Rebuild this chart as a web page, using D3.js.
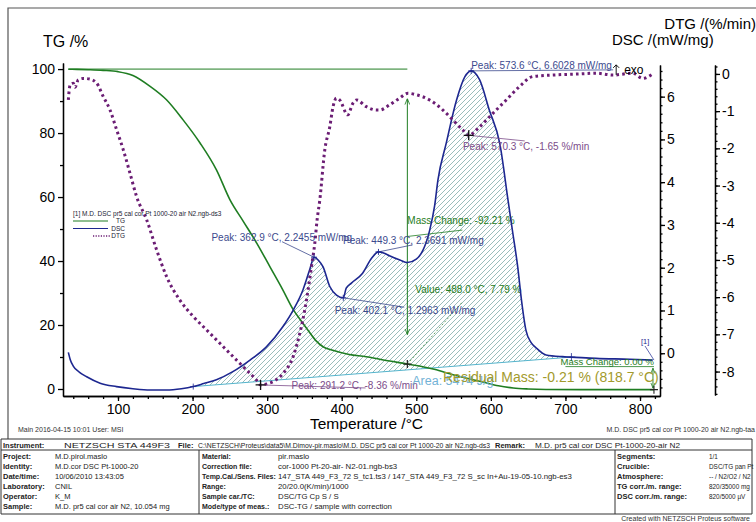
<!DOCTYPE html>
<html><head><meta charset="utf-8">
<script src="https://cdn.jsdelivr.net/npm/d3@7"></script>
<style>
body{margin:0;background:#fff}
svg{display:block}
text{font-family:Arial,"Liberation Sans",sans-serif}
</style>
</head><body>
<svg id="chart" width="756" height="522"></svg>
<script>
// ---- Measured curves (temperature in °C) ----
const tgTemp = [33.4,45,60,80,100,120,143,165,187,210,232,250,268,286,304,321,335,345,355,365,375,388,410,433,451,488,510,527,540,565,589,610,630,650,674,720,770,818.7];
const tgMass = [99.95,99.9,99.8,99.6,99.2,98.0,94.6,90.4,84.2,76.9,68.5,59.2,52.4,45.6,38.1,31.0,24.8,21.5,18.3,15.2,13.2,12.1,10.8,10.1,9.3,7.79,6.9,6.0,5.1,3.5,2.2,1.0,0.3,0.0,-0.15,-0.2,-0.2,-0.21];

const dscTemp = [33.4,36,40,48,58,76,98,120,143,165,185,200.9,215,232,254,277,299,321,335,348,357,362.9,369,375,384,393,402.1,406,413,428,440,449.3,457,464,478,488,500,509,518,524.6,529,540,554,565,573.6,585,598,612,623,629.5,636,641,647,654,661,674,696,708,741,786,817];
const dscVal  = [0.02,-0.15,-0.30,-0.44,-0.55,-0.70,-0.78,-0.83,-0.86,-0.86,-0.83,-0.78,-0.71,-0.62,-0.43,-0.16,0.15,0.62,1.01,1.48,1.95,2.2455,2.17,2.02,1.56,1.36,1.2963,1.52,1.64,1.87,2.22,2.3691,2.34,2.28,2.18,2.12,2.20,2.41,2.88,3.45,4.05,4.90,5.92,6.46,6.6028,6.39,5.68,4.90,3.58,2.80,2.02,1.25,0.54,0.25,0.12,-0.04,-0.08,-0.09,-0.12,-0.14,-0.16];

const dtgTemp = [33.4,35.7,40.1,42.4,46.8,53.5,62.5,71.5,80.3,89.3,98.3,107.1,116.1,125,138.4,151.8,165.2,183,200.9,218.8,236.6,254.4,272.4,285.8,291.2,300,308,321.4,334.8,343.8,350.5,354.9,359.4,363.9,367,370.6,377.3,384,388.4,392.9,397.3,408,415,420,433,446.5,451,464.3,477.7,488.8,500,517.9,535.7,549.1,562.5,570.3,584.9,602.7,620.6,638.4,656.3,683,718.8,741.2,763.5,790.2,803.6,817];
const dtgVal  = [-0.70,-0.30,-0.25,-0.36,-0.16,-0.12,-0.14,-0.25,-0.61,-0.97,-1.51,-2.04,-2.67,-3.30,-3.92,-4.73,-5.45,-6.08,-6.52,-6.88,-7.24,-7.60,-7.96,-8.23,-8.36,-8.33,-8.27,-8.05,-7.60,-6.97,-6.34,-5.81,-5.18,-4.55,-3.92,-3.39,-2.04,-1.42,-0.88,-0.65,-0.70,-1.10,-0.79,-0.70,-0.88,-0.97,-0.97,-0.83,-0.65,-0.52,-0.56,-0.70,-0.97,-1.24,-1.51,-1.65,-1.42,-1.06,-0.70,-0.34,-0.07,-0.03,0.0,0.02,-0.03,0.02,-0.12,0.0];

// ---- Axis ticks ----
const tempTicks = [100,200,300,400,500,600,700,800];
const tgTicks = [0,20,40,60,80,100];
const dscTicks = [0,1,2,3,4,5,6];
const dtgTicks = [0,-1,-2,-3,-4,-5,-6,-7,-8];

// ---- Evaluation results ----
const dscPeakTemp = [362.9,449.3,402.1,573.6];
const dscPeakVal  = [2.2455,2.3691,1.2963,6.6028];
const dtgPeakTemp = [291.2,570.3];
const dtgPeakVal  = [-8.36,-1.65];
const stepTemp = 488.0, stepStart = 100, stepEnd = 7.79, stepChange = -92.21;
const residualTemp = 818.7, residualMass = -0.21, endChange = -0.00;
const areaBaseTemp = [200.9,708];
const areaBaseVal  = [-0.78,-0.09];
const areaValue = 5474;

// ---- Info table ----
const instrumentLabels = ["Instrument:","File:","Remark:"];
const instrumentValues = ["NETZSCH STA 449F3","C:\\NETZSCH\\Proteus\\data5\\M.Dimov-pir.maslo\\M.D. DSC pr5 cal cor Pt 1000-20 air N2.ngb-ds3","M.D. pr5 cal cor DSC Pt-1000-20-air N2"];
const leftLabels = ["Project:","Identity:","Date/time:","Laboratory:","Operator:","Sample:"];
const leftValues = ["M.D.pirol.maslo","M.D.cor DSC Pt-1000-20","10/06/2010 13:43:05","CNIL","K_M","M.D. pr5 cal cor air N2, 10.054 mg"];
const midLabels = ["Material:","Correction file:","Temp.Cal./Sens. Files:","Range:","Sample car./TC:","Mode/type of meas.:"];
const midValues = ["pir.maslo","cor-1000 Pt-20-air- N2-01.ngb-bs3","147_STA 449_F3_72 S_tc1.ts3 / 147_STA 449_F3_72 S_sc In+Au-19-05-10.ngb-es3","20/20.0(K/min)/1000","DSC/TG Cp S / S","DSC-TG / sample with correction"];
const rightLabels = ["Segments:","Crucible:","Atmosphere:","TG corr./m. range:","DSC corr./m. range:"];
const rightValues = ["1/1","DSC/TG pan Pt","-- / N2/O2 / N2","820/35000 mg","820/5000 \u00b5V"];

const svg = d3.select("#chart");
const C = {tg:"#1f7d22", dsc:"#1d2790", dtg:"#6b1d74", hatch:"#80acaa", base:"#55b4cc",
           dscTxt:"#3c4a8e", dtgTxt:"#7c4c8a", resid:"#a29a2c", area:"#72b2d6"};

// scales
const x = d3.scaleLinear().domain([26.25,826.8]).range([63,660]);
const yTG = d3.scaleLinear().domain([-2.19,101.9]).range([396,63]);
const yDSC = d3.scaleLinear().domain([-1.0,6.74]).range([396,65]);
const yDTG = d3.scaleLinear().domain([-8.63,0.24]).range([395,65]);

// frame
svg.append("path").attr("d","M8,439V8H756").attr("fill","none").attr("stroke","#555").attr("stroke-width",1.2);

// hatch pattern
const defs = svg.append("defs");
const pat = defs.append("pattern").attr("id","hatch").attr("patternUnits","userSpaceOnUse")
  .attr("width",5).attr("height",5);
pat.append("path").attr("d","M-1,6L6,-1M-1,1L1,-1M4,6L6,4").attr("stroke",C.hatch).attr("stroke-width",0.8);
const mk = defs.append("marker").attr("id","arrG").attr("viewBox","0 0 10 10").attr("refX",10).attr("refY",5)
  .attr("markerWidth",6).attr("markerHeight",6).attr("orient","auto-start-reverse");
mk.append("path").attr("d","M0,1L10,5L0,9").attr("fill","none").attr("stroke",C.tg).attr("stroke-width",1.4);

// hatched DSC area between curve and linear baseline
const baseAt = t => areaBaseVal[0] + (t-areaBaseTemp[0])*(areaBaseVal[1]-areaBaseVal[0])/(areaBaseTemp[1]-areaBaseTemp[0]);
const dscPts = dscTemp.map((t,i)=>({t, v:dscVal[i]}));
const areaPts = dscPts.filter(d=>d.t>=areaBaseTemp[0] && d.t<=areaBaseTemp[1]);
svg.append("path").datum(areaPts)
  .attr("d", d3.area().curve(d3.curveMonotoneX).x(d=>x(d.t)).y0(d=>yDSC(baseAt(d.t))).y1(d=>yDSC(d.v)))
  .attr("fill","url(#hatch)");
// baseline
svg.append("line").attr("x1",x(areaBaseTemp[0])).attr("y1",yDSC(areaBaseVal[0]))
  .attr("x2",x(areaBaseTemp[1])).attr("y2",yDSC(areaBaseVal[1])).attr("stroke",C.base).attr("stroke-width",1);

// axes
function styleAxis(g){ g.selectAll("path,line").attr("stroke","#000").attr("stroke-width",1.3);
  g.selectAll("text").attr("font-size",14).attr("fill","#000").attr("font-family","Arial, 'Liberation Sans', sans-serif"); }
const fmt = d=>String(d);
svg.append("g").attr("transform","translate(0,396)")
  .call(d3.axisBottom(x).tickValues(tempTicks).tickSize(5).tickPadding(3).tickSizeOuter(0).tickFormat(fmt)).call(styleAxis);
svg.append("g").attr("transform","translate(0,396)")
  .call(d3.axisBottom(x).tickValues(d3.range(40,821,20)).tickSize(3).tickSizeOuter(0).tickFormat("")).call(styleAxis);
svg.append("g").attr("transform","translate(63,0)")
  .call(d3.axisLeft(yTG).tickValues(tgTicks).tickSize(5).tickPadding(3).tickSizeOuter(0).tickFormat(fmt)).call(styleAxis);
svg.append("g").attr("transform","translate(63,0)")
  .call(d3.axisLeft(yTG).tickValues([10,30,50,70,90]).tickSize(3).tickSizeOuter(0).tickFormat("")).call(styleAxis);
svg.append("g").attr("transform","translate(660,0)")
  .call(d3.axisRight(yDSC).tickValues(dscTicks).tickSize(5).tickPadding(2).tickSizeOuter(0).tickFormat(fmt)).call(styleAxis);
svg.append("g").attr("transform","translate(660,0)")
  .call(d3.axisRight(yDSC).tickValues(d3.range(-0.8,6.7,0.2)).tickSize(2.5).tickSizeOuter(0).tickFormat("")).call(styleAxis);
svg.append("g").attr("transform","translate(715,0)")
  .call(d3.axisRight(yDTG).tickValues(dtgTicks).tickSize(5).tickPadding(2).tickSizeOuter(0).tickFormat(fmt)).call(styleAxis);
svg.append("g").attr("transform","translate(715,0)")
  .call(d3.axisRight(yDTG).tickValues(d3.range(-8.6,0.21,0.2)).tickSize(2.5).tickSizeOuter(0).tickFormat("")).call(styleAxis);

// axis titles
svg.append("text").attr("x",43).attr("y",47).attr("font-size",16).text("TG /%");
svg.append("text").attr("x",756).attr("y",29).attr("font-size",15).attr("text-anchor","end").text("DTG /(%/min)");
svg.append("text").attr("x",612).attr("y",45).attr("font-size",15).text("DSC /(mW/mg)");
svg.append("text").attr("x",310).attr("y",429).attr("font-size",15.5).text("Temperature /°C");

// mass-step helpers (TG = 100 reference, double arrow shortened by 10 % at each end)
const xs = x(stepTemp);
svg.append("line").attr("x1",x(tgTemp[0])).attr("x2",xs).attr("y1",yTG(stepStart)).attr("y2",yTG(stepStart))
  .attr("stroke",C.tg).attr("stroke-width",1);
const span = stepStart-stepEnd;
svg.append("line").attr("x1",xs).attr("x2",xs).attr("y1",yTG(stepStart-0.1*span)).attr("y2",yTG(stepEnd+0.1*span))
  .attr("stroke",C.tg).attr("stroke-width",1).attr("marker-start","url(#arrG)").attr("marker-end","url(#arrG)");
svg.append("line").attr("x1",xs).attr("y1",yTG(stepStart-0.6*span+3)).attr("x2",xs+55).attr("y2",yTG(stepStart-0.6*span+5))
  .attr("stroke",C.tg).attr("stroke-width",0.8);
svg.append("text").attr("x",xs).attr("y",yTG(stepStart-0.6*span+7)).attr("font-size",10).attr("fill",C.tg)
  .text(`Mass Change: ${stepChange.toFixed(2)} %`);
// value at step end
svg.append("line").attr("x1",xs).attr("y1",yTG(stepEnd)).attr("x2",xs+55).attr("y2",yTG(stepEnd)-62)
  .attr("stroke",C.tg).attr("stroke-width",0.7).attr("stroke-dasharray","2 2");
svg.append("text").attr("x",xs+8).attr("y",yTG(stepEnd)-71).attr("font-size",10).attr("fill",C.tg)
  .text(`Value: ${stepTemp.toFixed(1)} °C, ${stepEnd.toFixed(2)} %`);

// TG curve
const tgPts = tgTemp.map((t,i)=>({t,v:tgMass[i]}));
svg.append("path").datum(tgPts).attr("d",d3.line().curve(d3.curveMonotoneX).x(d=>x(d.t)).y(d=>yTG(d.v)))
  .attr("fill","none").attr("stroke",C.tg).attr("stroke-width",1.6);

// DSC curve
svg.append("path").datum(dscPts).attr("d",d3.line().curve(d3.curveMonotoneX).x(d=>x(d.t)).y(d=>yDSC(d.v)))
  .attr("fill","none").attr("stroke",C.dsc).attr("stroke-width",1.6);

// DTG curve (dotted)
const dtgPts = dtgTemp.map((t,i)=>({t,v:dtgVal[i]}));
svg.append("path").datum(dtgPts).attr("d",d3.line().curve(d3.curveMonotoneX).x(d=>x(d.t)).y(d=>yDTG(d.v)))
  .attr("fill","none").attr("stroke",C.dtg).attr("stroke-width",3).attr("stroke-dasharray","2.6 3.2");

// plus markers
function plus(px,py,s,col,w){ svg.append("path").attr("d",`M${px-s},${py}H${px+s}M${px},${py-s}V${py+s}`)
  .attr("stroke",col).attr("stroke-width",w||1.2).attr("fill","none"); }

// DSC peak labels (label offset in px from the peak point)
const dscLab = [[-102.6,-16,[-32,-15.5]],[-35.5,-8,[34,-7]],[-8.6,16.7,[61,9.4]],[0,-2,null]];
dscPeakTemp.forEach((t,i)=>{
  const px=x(t), py=yDSC(dscPeakVal[i]), o=dscLab[i];
  if(o[2]) svg.append("line").attr("x1",px).attr("y1",py).attr("x2",px+o[2][0]).attr("y2",py+o[2][1])
    .attr("stroke",C.dscTxt).attr("stroke-width",0.8);
  else svg.append("line").attr("x1",px).attr("y1",py).attr("x2",px+142).attr("y2",py-1).attr("stroke",C.dscTxt).attr("stroke-width",0.8);
  plus(px,py,3,C.dsc,0.9);
  svg.append("text").attr("x",px+o[0]).attr("y",py+o[1]).attr("font-size",10).attr("fill",C.dscTxt)
    .text(`Peak: ${t.toFixed(1)} °C, ${dscPeakVal[i].toFixed(4)} mW/mg`);
});
// exo marker
const exoX = x(573.6)+145, exoY = yDSC(6.6028);
svg.append("path").attr("d",`M${exoX},${exoY+4}V${exoY-6}M${exoX-3},${exoY-3}L${exoX},${exoY-6}L${exoX+3},${exoY-3}`)
  .attr("stroke","#000").attr("stroke-width",0.9).attr("fill","none");
svg.append("text").attr("x",exoX+8).attr("y",exoY+3).attr("font-size",12).text("exo");

// DTG peak labels
const dtgLab = [[31,4,[105,3]],[-5.8,15,[56,5.6]]];
dtgPeakTemp.forEach((t,i)=>{
  const px=x(t), py=yDTG(dtgPeakVal[i]), o=dtgLab[i];
  svg.append("line").attr("x1",px).attr("y1",py).attr("x2",px+o[2][0]).attr("y2",py+o[2][1])
    .attr("stroke",C.dtgTxt).attr("stroke-width",0.8);
  plus(px,py,5,"#111",1.3);
  svg.append("text").attr("x",px+o[0]).attr("y",py+o[1]).attr("font-size",10).attr("fill",C.dtgTxt)
    .text(`Peak: ${t.toFixed(1)} °C, ${dtgPeakVal[i].toFixed(2)} %/min`);
});

// baseline end ticks and TG step marker
plus(x(areaBaseTemp[0]),yDSC(areaBaseVal[0]),3,C.dsc,0.8);
plus(x(areaBaseTemp[1]),yDSC(areaBaseVal[1]),4,C.dsc,0.8);
plus(xs,yTG(stepEnd),4,"#222",1.2);

// area label
svg.append("text").attr("x",x(areaBaseTemp[0])+219).attr("y",385).attr("font-size",12.5).attr("fill",C.area)
  .text(`Area: ${areaValue} J/g`);

// end-of-run mass change and residual mass
const xe = x(residualTemp);
svg.append("line").attr("x1",x(700)).attr("x2",xe).attr("y1",yTG(7)).attr("y2",yTG(7)).attr("stroke",C.tg).attr("stroke-width",0.8);
svg.append("line").attr("x1",xe-1).attr("x2",xe-1).attr("y1",yTG(6.5)).attr("y2",yTG(0.3))
  .attr("stroke",C.tg).attr("stroke-width",0.9).attr("marker-start","url(#arrG)").attr("marker-end","url(#arrG)");
svg.append("text").attr("x",xe).attr("y",yTG(7.6)).attr("font-size",9.5).attr("fill",C.tg).attr("text-anchor","end")
  .text(`Mass Change: ${endChange.toFixed(2)} %`);
plus(xe,yTG(residualMass),4,"#222",1.1);
svg.append("text").attr("x",443).attr("y",382).attr("font-size",14).attr("fill",C.resid)
  .text(`Residual Mass: ${residualMass.toFixed(2)} % (${residualTemp.toFixed(1)} °C)`);
// curve tag
svg.append("line").attr("x1",645).attr("y1",346).attr("x2",xe).attr("y2",yDSC(-0.16)).attr("stroke",C.dsc).attr("stroke-width",0.7);
svg.append("text").attr("x",641).attr("y",344).attr("font-size",7.5).attr("fill",C.dsc).text("[1]");

// legend
const lg = svg.append("g").attr("font-size",6.5).attr("fill","#223");
lg.append("text").attr("x",73).attr("y",216).text("[1] M.D. DSC pr5 cal cor Pt 1000-20 air N2.ngb-ds3");
[["TG",C.tg,null,221],["DSC",C.dsc,null,228.5],["DTG",C.dtg,"1.2 1.4",236]].forEach(([n,c,da,yy])=>{
  const l = lg.append("line").attr("x1",da?93:73).attr("x2",da?110:108).attr("y1",yy).attr("y2",yy).attr("stroke",c).attr("stroke-width",da?1.3:1);
  if(da) l.attr("stroke-dasharray",da);
  lg.append("text").attr("x",125).attr("y",yy+2.3).attr("text-anchor","end").text(n);
});

// footer info
svg.append("text").attr("x",18).attr("y",432).attr("font-size",7).attr("fill","#333").text("Main   2016-04-15 10:01    User: MSI");
svg.append("text").attr("x",755).attr("y",432).attr("font-size",7).attr("fill","#333").attr("text-anchor","end")
  .text("M.D. DSC pr5 cal cor Pt 1000-20 air N2.ngb-taa");

// info table
const tb = svg.append("g").attr("font-size",7.5).attr("fill","#222");
const ln = (x1,y1,x2,y2)=>tb.append("line").attr("x1",x1).attr("y1",y1).attr("x2",x2).attr("y2",y2).attr("stroke","#333").attr("stroke-width",1);
ln(1,439,752,439); ln(1,450,752,450); ln(1,514,752,514);
ln(1,439,1,514); ln(752,439,752,514); ln(199,450,199,514); ln(615,450,615,514);
// header row: label / value pairs at fixed columns, each value fitted to its column width
const hdr = [[3,64,106],[178,198,292],[495,535,145]];
instrumentLabels.forEach((l,i)=>{ const [lx,vx,w]=hdr[i];
  tb.append("text").attr("x",lx).attr("y",447.5).attr("font-weight","bold").text(l);
  tb.append("text").attr("x",vx).attr("y",447.5).attr("font-size",7.2)
    .attr("textLength",w).attr("lengthAdjust","spacingAndGlyphs").text(instrumentValues[i]); });
leftLabels.forEach((l,i)=>{ const yy=459+i*10;
  tb.append("text").attr("x",3).attr("y",yy).attr("font-weight","bold").text(l);
  tb.append("text").attr("x",55).attr("y",yy).text(leftValues[i]); });
midLabels.forEach((l,i)=>{ const yy=459+i*10;
  tb.append("text").attr("x",202).attr("y",yy).attr("font-weight","bold").attr("font-size",7).text(l);
  tb.append("text").attr("x",278).attr("y",yy).attr("font-size",7.8).text(midValues[i]); });
rightLabels.forEach((l,i)=>{ const yy=459+i*10;
  tb.append("text").attr("x",617).attr("y",yy).attr("font-weight","bold").text(l);
  tb.append("text").attr("x",709).attr("y",yy).attr("font-size",6.4).text(rightValues[i]); });
svg.append("text").attr("x",750).attr("y",521).attr("font-size",7).attr("fill","#333").attr("text-anchor","end")
  .text("Created with NETZSCH Proteus software");
</script>
</body></html>
